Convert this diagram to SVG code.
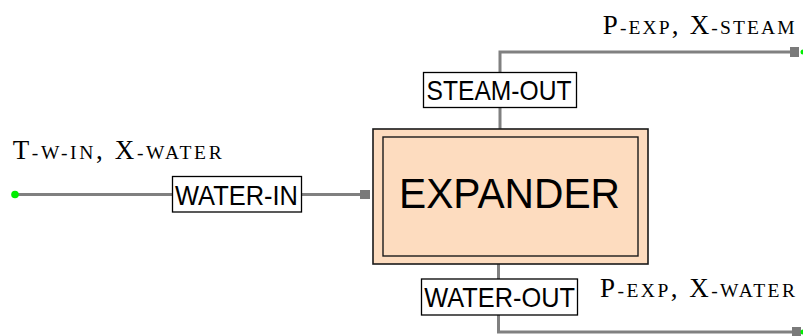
<svg xmlns="http://www.w3.org/2000/svg" width="803" height="336" viewBox="0 0 803 336">
<style>
.ln{fill:none;stroke:#808080;stroke-width:3}
.mk{fill:#7a7a7a}
.lbox{fill:#ffffff;stroke:#000000;stroke-width:1.3}
.ltxt{font-family:"Liberation Sans",Arial,sans-serif;font-size:28px;fill:#000000}
.big{font-family:"Liberation Serif","Times New Roman",serif;font-size:27px;fill:#000000}
.sc{font-size:19.5px}
</style>
<rect width="803" height="336" fill="#ffffff"/>
<g id="connectors">
  <polyline class="ln" points="15,194.5 362,194.5"/>
  <rect class="mk" x="360" y="190" width="10" height="9"/>
  <circle cx="15" cy="194.5" r="3.8" fill="#00ee00"/>
  <polyline class="ln" points="500,129 500,52 792,52"/>
  <rect class="mk" x="790" y="47" width="9" height="10"/>
  <circle cx="803" cy="52" r="2.5" fill="#00ee00"/>
  <polyline class="ln" points="498.5,264 498.5,332 794,332"/>
  <rect class="mk" x="792" y="327" width="9" height="10"/>
  <circle cx="803" cy="332" r="2.5" fill="#00ee00"/>
</g>
<g id="stream-labels">
  <g id="water-in">
    <rect class="lbox" x="172.5" y="176.5" width="129" height="35.5"/>
    <text class="ltxt" x="175" y="205" textLength="123" lengthAdjust="spacingAndGlyphs">WATER-IN</text>
  </g>
  <g id="steam-out">
    <rect class="lbox" x="423.5" y="72.5" width="153" height="35"/>
    <text class="ltxt" x="426.5" y="100" textLength="145" lengthAdjust="spacingAndGlyphs">STEAM-OUT</text>
  </g>
  <g id="water-out">
    <rect class="lbox" x="421.5" y="279" width="156" height="36"/>
    <text class="ltxt" x="424.3" y="306.7" textLength="150.7" lengthAdjust="spacingAndGlyphs">WATER-OUT</text>
  </g>
</g>
<g id="expander">
  <rect x="373" y="129" width="275" height="135" fill="#fddcbf" stroke="#1a1a1a" stroke-width="1.6"/>
  <rect x="383" y="137" width="255" height="119" fill="none" stroke="#1a1a1a" stroke-width="1.4"/>
  <text x="399" y="208" font-family="'Liberation Sans',Arial,sans-serif" font-size="42" fill="#000000" textLength="221" lengthAdjust="spacingAndGlyphs">EXPANDER</text>
</g>
<g id="conditions">
  <text class="big" x="12.7" y="159" textLength="209" lengthAdjust="spacing">T<tspan class="sc">-W-IN</tspan>, X<tspan class="sc">-WATER</tspan></text>
  <text class="big" x="602.7" y="34.3" textLength="192" lengthAdjust="spacing">P<tspan class="sc">-EXP</tspan>, X<tspan class="sc">-STEAM</tspan></text>
  <text class="big" x="600" y="296.7" textLength="195" lengthAdjust="spacing">P<tspan class="sc">-EXP</tspan>, X<tspan class="sc">-WATER</tspan></text>
</g>
</svg>
